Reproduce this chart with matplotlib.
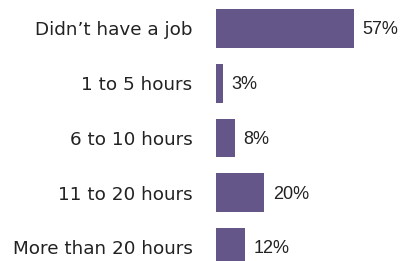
import matplotlib
matplotlib.use("Agg")
from matplotlib import pyplot as plt

categories = ["Didn\u2019t have a job", "1 to 5 hours", "6 to 10 hours",
              "11 to 20 hours", "More than 20 hours"]
values = [57, 3, 8, 20, 12]
value_labels = ["57%", "3%", "8%", "20%", "12%"]

bar_color = "#645689"

fig = plt.figure(figsize=(4.01, 2.61), dpi=100)
ax = fig.add_axes([216 / 401, 0, 1 - 216 / 401, 1])

ypos = list(range(len(categories)))
ax.barh(ypos, values, height=0.71, color=bar_color)

ax.set_xlim(0, 185 / 2.42)
ax.set_ylim(4.247, -0.52)

for y, v, lab in zip(ypos, values, value_labels):
    ax.annotate(lab, xy=(v, y), xytext=(6, -1), textcoords="offset points",
                ha="left", va="center", fontsize=13, color="#222222",
                family="Liberation Sans")

ax.set_yticks(ypos)
ax.set_yticklabels(categories, fontsize=13.2, color="#222222", family="DejaVu Sans")
ax.tick_params(axis="y", length=0, pad=17)
ax.set_xticks([])
for s in ax.spines.values():
    s.set_visible(False)

fig.savefig("out.png", dpi=100)
